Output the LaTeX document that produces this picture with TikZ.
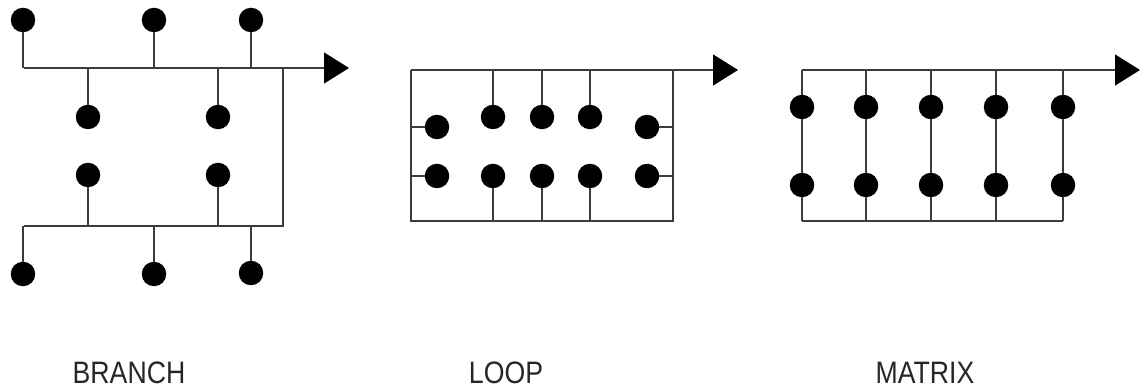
\documentclass[tikz,border=0pt]{standalone}
\usepackage{fontspec}
\setmainfont{Liberation Sans}
\newfontfamily\labelfont[FakeStretch=0.86]{Liberation Sans}
\usetikzlibrary{arrows.meta}
\definecolor{wire}{RGB}{60,60,60}
\tikzset{
  wireline/.style={draw=wire, line width=1.4pt},
  flowarrow/.style={wireline, -{Triangle[length=25pt,width=31pt,fill=black,color=black]}},
  dot/.style={circle, fill=black, inner sep=0pt, minimum size=24.5pt},
  caption/.style={font=\labelfont\fontsize{31}{36}\selectfont, anchor=base, inner sep=0pt, text=black!85}
}
\begin{document}
\begin{tikzpicture}[x=1pt,y=-1pt]
\useasboundingbox (0,0) rectangle (1140,387);

% ---------------- BRANCH ----------------
\coordinate (bA) at (24,68);     % start of the main line
\coordinate (bB) at (283,68);    % corner of the return leg
\coordinate (bE) at (349,68);    % arrow tip
\coordinate (bC) at (283,226);   % lower corner
\coordinate (bD) at (24,226);    % end of the lower line

\node[dot] (bt1) at (23,20) {};
\node[dot] (bt2) at (154,20) {};
\node[dot] (bt3) at (251,20) {};
\node[dot] (bm1) at (88,117) {};
\node[dot] (bm2) at (218,117) {};
\node[dot] (bn1) at (88,175) {};
\node[dot] (bn2) at (218,175) {};
\node[dot] (bb1) at (23,274) {};
\node[dot] (bb2) at (154,274) {};
\node[dot] (bb3) at (251,273) {};

\draw[flowarrow] (bA) -- (bE);
\draw[wireline] (bB) -- (bC) -- (bD);
\foreach \d in {bt1,bt2,bt3,bm1,bm2}
  \draw[wireline] (\d) -- (\d |- bA);
\foreach \d in {bn1,bn2,bb1,bb2,bb3}
  \draw[wireline] (\d) -- (\d |- bD);

% ---------------- LOOP ----------------
\coordinate (lA) at (411,70);
\coordinate (lB) at (673,70);
\coordinate (lE) at (738,70);
\coordinate (lC) at (673,221);
\coordinate (lD) at (411,221);

\node[dot] (lt1) at (437,127) {};
\node[dot] (lt2) at (493,117) {};
\node[dot] (lt3) at (542,117) {};
\node[dot] (lt4) at (590,117) {};
\node[dot] (lt5) at (647,127) {};
\node[dot] (lb1) at (437,176) {};
\node[dot] (lb2) at (493,176) {};
\node[dot] (lb3) at (542,176) {};
\node[dot] (lb4) at (590,176) {};
\node[dot] (lb5) at (647,176) {};

\draw[flowarrow] (lA) -- (lE);
\draw[wireline] (lB) -- (lC) -- (lD) -- (lA);
\foreach \d in {lt2,lt3,lt4}
  \draw[wireline] (\d) -- (\d |- lA);
\foreach \d in {lb2,lb3,lb4}
  \draw[wireline] (\d) -- (\d |- lD);
\foreach \d in {lt1,lb1}
  \draw[wireline] (\d) -- (\d -| lA);
\foreach \d in {lt5,lb5}
  \draw[wireline] (\d) -- (\d -| lB);

% ---------------- MATRIX ----------------
\coordinate (mA) at (802,70);
\coordinate (mE) at (1140,70);
\coordinate (mD) at (802,221);
\coordinate (mC) at (1063,221);

\foreach \i/\x in {1/802,2/866,3/931,4/996,5/1063}{
  \node[dot] (mt\i) at (\x,107) {};
  \node[dot] (mb\i) at (\x,185) {};
}

\draw[flowarrow] (mA) -- (mE);
\draw[wireline] (mD) -- (mC);
\foreach \i in {1,...,5}{
  \draw[wireline] (mt\i) -- (mt\i |- mA);
  \draw[wireline] (mt\i) -- (mb\i);
  \draw[wireline] (mb\i) -- (mb\i |- mD);
}

% ---------------- captions ----------------
\node[caption] (capB) at (129,383) {BRANCH};
\node[caption] (capL) at (506,383) {LOOP};
\node[caption] (capM) at (925,383) {MATRIX};
\end{tikzpicture}
\end{document}
